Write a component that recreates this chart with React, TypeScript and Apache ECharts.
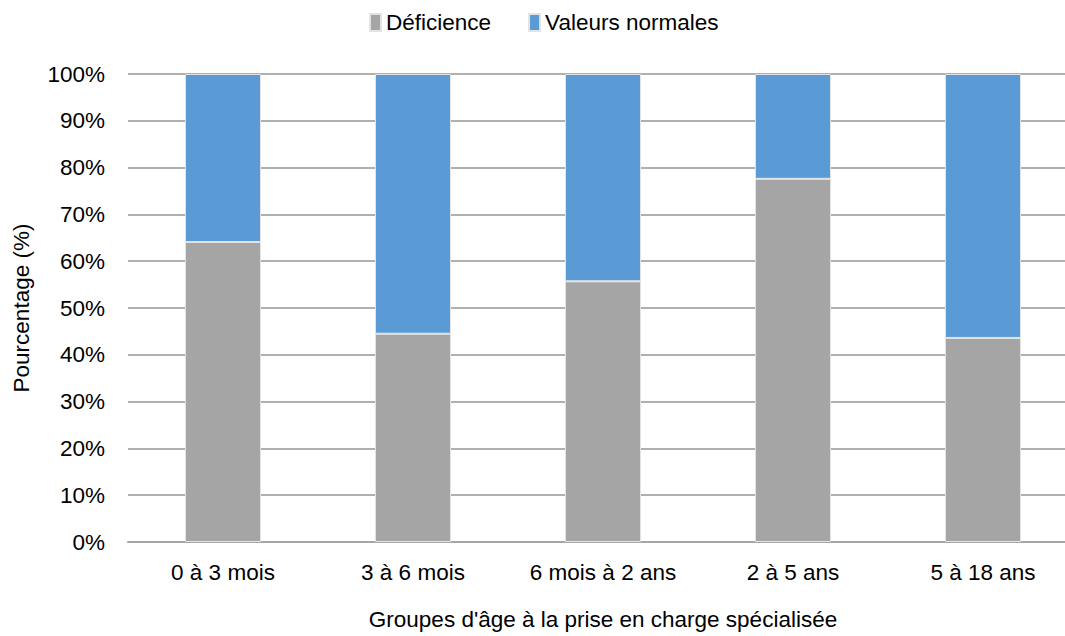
import React, { useEffect, useRef } from "react";
import * as echarts from "echarts";

const categories = ["0 à 3 mois", "3 à 6 mois", "6 mois à 2 ans", "2 à 5 ans", "5 à 18 ans"];
const deficience = [64.1, 44.5, 55.7, 77.6, 43.6];
const normales = [35.9, 55.5, 44.3, 22.4, 56.4];
const yTicks = [0, 10, 20, 30, 40, 50, 60, 70, 80, 90, 100];

const FONT = "'Liberation Sans', Arial, Helvetica, sans-serif";
const FS = 22.5;

export default function App() {
  const ref = useRef<HTMLDivElement>(null);
  useEffect(() => {
    document.body.style.margin = "0";
    if (!ref.current) return;
    const chart = echarts.init(ref.current, undefined, { renderer: "svg" });
    chart.setOption({
      animation: false,
      textStyle: { fontFamily: FONT },
      legend: {
        top: 6,
        left: 364,
        itemWidth: 11,
        itemHeight: 17,
        itemGap: 37,
        itemTextGap: 6,
        icon: "rect",
        textStyle: { fontSize: FS, color: "#000", fontFamily: FONT },
        data: ["Déficience", "Valeurs normales"],
      },
      grid: { left: 128, right: 0, top: 74, bottom: 86, containLabel: false },
      xAxis: {
        type: "category",
        data: categories,
        axisTick: { show: false },
        axisLine: { lineStyle: { color: "#a6a6a6", width: 2 } },
        axisLabel: { interval: 0, fontSize: FS, color: "#000", margin: 19, fontFamily: FONT },
        name: "Groupes d'âge à la prise en charge spécialisée",
        nameLocation: "middle",
        nameGap: 66,
        nameTextStyle: { fontSize: FS, color: "#000", fontFamily: FONT },
      },
      yAxis: {
        type: "value",
        min: 0,
        max: 100,
        interval: 10,
        axisLabel: {
          fontSize: FS,
          color: "#000",
          margin: 23,
          fontFamily: FONT,
          formatter: (v: number) => (yTicks.includes(v) ? v + "%" : ""),
        },
        splitLine: { lineStyle: { color: "#b0b0b0", width: 2 } },
        axisLine: { show: false },
        axisTick: { show: false },
        name: "Pourcentage (%)",
        nameLocation: "middle",
        nameGap: 95,
        nameTextStyle: { fontSize: FS, color: "#000", fontFamily: FONT },
      },
      series: [
        {
          name: "Déficience",
          type: "bar",
          stack: "total",
          data: deficience,
          barWidth: "40%",
          itemStyle: { color: "#a5a5a5", borderColor: "#e3e3e3", borderWidth: 1 },
        },
        {
          name: "Valeurs normales",
          type: "bar",
          stack: "total",
          data: normales,
          barWidth: "40%",
          itemStyle: { color: "#5b9bd5", borderColor: "#e3e3e3", borderWidth: 1 },
        },
      ],
    });
    return () => chart.dispose();
  }, []);
  return (
    <div style={{ width: 1065, height: 636, overflow: "hidden", background: "#fff", position: "relative" }}>
      <div ref={ref} style={{ width: 1078, height: 636 }} />
    </div>
  );
}
